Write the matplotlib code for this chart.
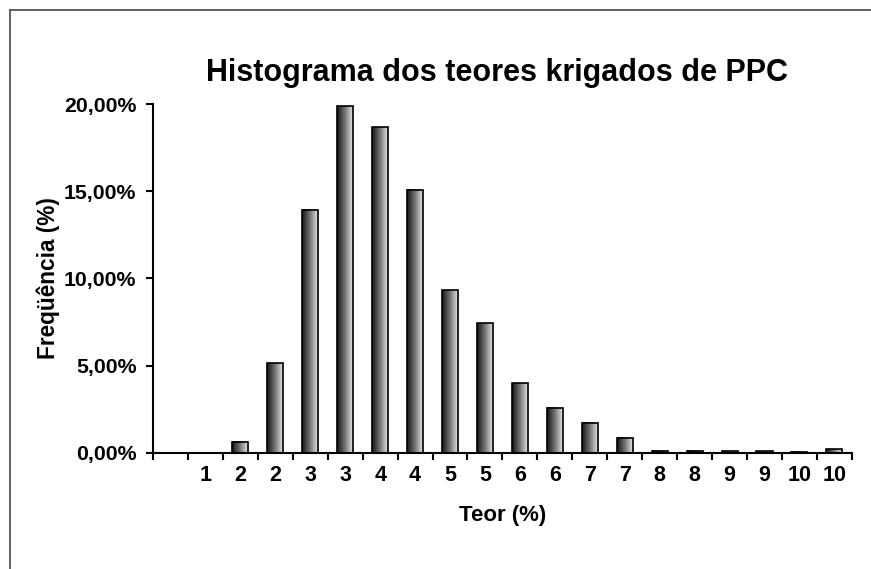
import numpy as np
import matplotlib
matplotlib.use('Agg')
import matplotlib.pyplot as plt
from matplotlib.colors import LinearSegmentedColormap
from matplotlib.ticker import FuncFormatter

# histogram classes (first one has no label) and frequencies in %
labels = ['', '1', '2', '2', '3', '3', '4', '4', '5', '5',
          '6', '6', '7', '7', '8', '8', '9', '9', '10', '10']
freq = [0.0, 0.0, 0.65, 5.15, 13.93, 19.88, 18.66, 15.1, 9.34, 7.45,
        4.0, 2.58, 1.72, 0.88, 0.13, 0.13, 0.1, 0.1, 0.08, 0.21]

plt.rcParams['font.family'] = ['Liberation Sans', 'DejaVu Sans']
plt.rcParams['font.weight'] = 'bold'

fig = plt.figure(figsize=(8.71, 5.69), dpi=100)
ax = fig.add_axes([0.1757, 0.2039, 0.8023, 0.6133])

grad = LinearSegmentedColormap.from_list('grad', ['#151515', '#7a7a7a', '#f2f2f2'])
gimg = np.linspace(0, 1, 64).reshape(1, -1)

x = np.arange(len(labels))
w = 0.46
bars = ax.bar(x, freq, width=w, facecolor='none', edgecolor='black', linewidth=1.2, zorder=3)
for b in bars:
    h = b.get_height()
    if h <= 0:
        continue
    x0 = b.get_x()
    ax.imshow(gimg, cmap=grad, extent=(x0, x0 + w, 0, h), aspect='auto',
              interpolation='bicubic', zorder=2)

ax.set_xlim(-0.5, len(labels) - 0.5)
ax.set_ylim(0, 20)
ax.set_yticks([0, 5, 10, 15, 20])
ax.yaxis.set_major_formatter(FuncFormatter(lambda v, p: ('%.2f%%' % v).replace('.', ',')))
ax.set_xticks(x)
ax.set_xticklabels(labels)
ax.set_xticks(np.arange(len(labels) + 1) - 0.5, minor=True)
ax.tick_params(axis='x', which='major', length=0, pad=9, labelsize=15.5)
ax.tick_params(axis='x', which='minor', length=5, width=1.5, direction='out')
ax.tick_params(axis='y', length=5, width=1.5, direction='out', labelsize=15.3, pad=7)

for s in ['top', 'right']:
    ax.spines[s].set_visible(False)
for s in ['left', 'bottom']:
    ax.spines[s].set_linewidth(1.5)

ax.set_xlabel('Teor (%)', fontsize=16, fontweight='bold', labelpad=13)
ax.set_ylabel('Freqüência (%)', fontsize=16.3, fontweight='bold', labelpad=3)
fig.text(0.571, 0.871, 'Histograma dos teores krigados de PPC', ha='center', va='center',
         fontsize=22, fontweight='bold')

# chart area border (only top and left visible in the crop)
fig.add_artist(plt.Line2D([0.011, 1.0], [0.982, 0.982], color='#555555', lw=1.3))
fig.add_artist(plt.Line2D([0.011, 0.011], [0.0, 0.982], color='#555555', lw=1.3))

fig.savefig('out.png', dpi=100)
